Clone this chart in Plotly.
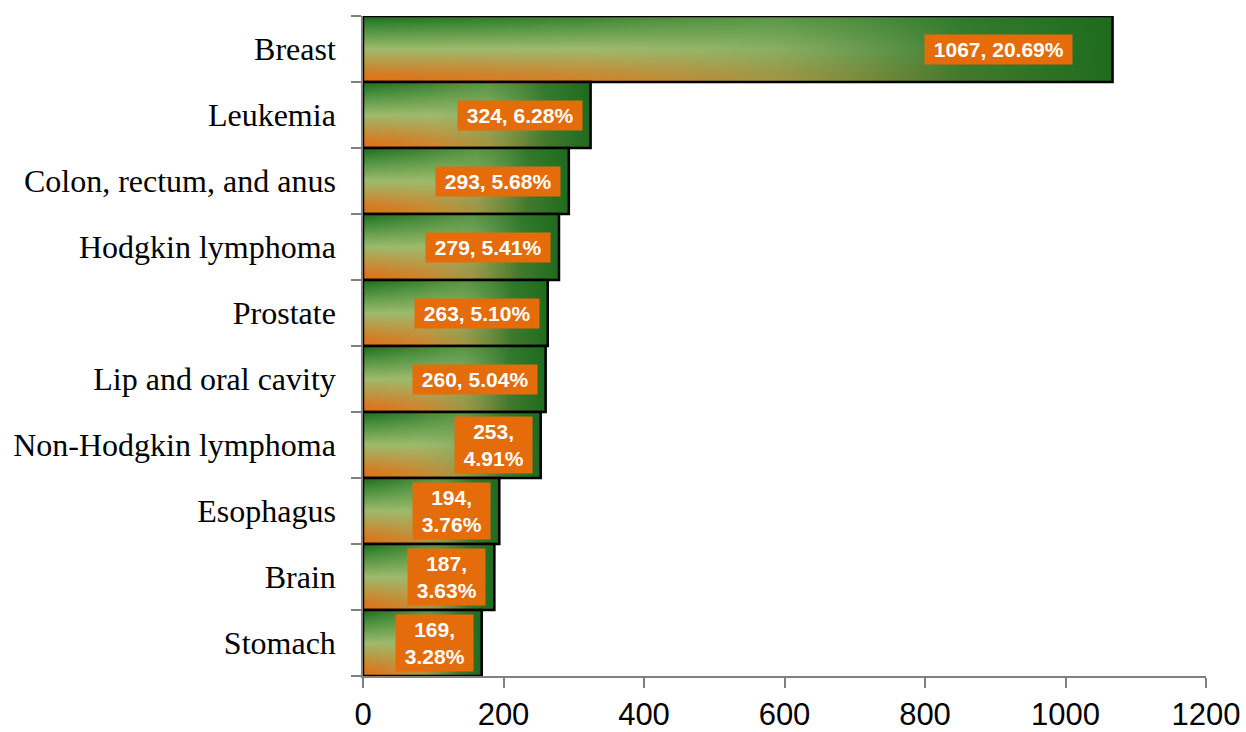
import plotly.graph_objects as go

# ---- data (top to bottom as shown) ----
categories = ["Breast", "Leukemia", "Colon, rectum, and anus", "Hodgkin lymphoma",
              "Prostate", "Lip and oral cavity", "Non-Hodgkin lymphoma",
              "Esophagus", "Brain", "Stomach"]
cases = [1067, 324, 293, 279, 263, 260, 253, 194, 187, 169]
percent = [20.69, 6.28, 5.68, 5.41, 5.10, 5.04, 4.91, 3.76, 3.63, 3.28]
x_ticks = [0, 200, 400, 600, 800, 1000, 1200]

# ---- styles ----
DARK_GREEN = "#1E6B1E"
LIGHT_GREEN = "#9DBA6C"
ORANGE = "#E2700F"
LABEL_BG = "#E46C0A"
AXIS_GRAY = "#808080"
WRAP_BELOW = 255          # labels on bars shorter than this wrap onto two lines
LABEL_SHIFT = {"Breast": -40}
NB = "\u00a0"

vertical_scale = [[0.0, ORANGE], [0.12, "#D77A22"], [0.5, LIGHT_GREEN],
                  [0.85, "#3C8935"], [1.0, DARK_GREEN]]
horizontal_scale = [[0.0, "rgba(157,186,108,0)"], [0.3, "rgba(157,186,108,0.25)"],
                    [0.55, "rgba(125,168,92,0.65)"], [0.8, "rgba(50,120,45,0.9)"],
                    [1.0, "rgba(30,107,30,1)"]]

n = len(categories)
pos = [n - 1 - i for i in range(n)]

fig = go.Figure()

for c, v, p in zip(categories, cases, pos):
    xs = [0, v, v, 0, 0]
    ys = [p - 0.5, p - 0.5, p + 0.5, p + 0.5, p - 0.5]
    fig.add_trace(go.Scatter(
        x=xs, y=ys, mode="lines", line=dict(width=0), fill="toself",
        fillgradient=dict(type="vertical", colorscale=vertical_scale,
                          start=p - 0.5, stop=p + 0.5),
        hoverinfo="skip", showlegend=False))
    fig.add_trace(go.Scatter(
        x=xs, y=ys, mode="lines", line=dict(width=2.5, color="black"), fill="toself",
        fillgradient=dict(type="horizontal", colorscale=horizontal_scale,
                          start=0, stop=v),
        hoverinfo="skip", showlegend=False))

for c, v, pc, p in zip(categories, cases, percent, pos):
    if v < WRAP_BELOW:
        text = f"{NB}{v},{NB}<br>{NB}{pc:.2f}%{NB}"
    else:
        text = f"{NB}{v}, {pc:.2f}%{NB}"
    fig.add_annotation(
        x=v, y=p, xref="x", yref="y", text=text, showarrow=False,
        xanchor="right", yanchor="middle", xshift=LABEL_SHIFT.get(c, -8),
        bgcolor=LABEL_BG, borderpad=3, align="center",
        font=dict(family="Liberation Sans, Arial, sans-serif", size=21,
                  color="white", weight="bold"))

fig.update_layout(
    width=1246, height=732,
    margin=dict(l=363, r=40, t=16, b=56),
    paper_bgcolor="white", plot_bgcolor="white",
    showlegend=False,
    xaxis=dict(range=[0, 1200], tickvals=x_ticks, showgrid=False, zeroline=False,
               automargin=False,
               showline=True, linecolor=AXIS_GRAY, linewidth=1.5,
               ticks="outside", ticklen=10, tickcolor=AXIS_GRAY, tickwidth=1.5,
               tickfont=dict(family="Liberation Sans, Arial, sans-serif", size=31,
                             color="black")),
    yaxis=dict(range=[-0.5, n - 0.5], tickvals=pos, ticktext=categories,
               showgrid=False, zeroline=False, showline=True, automargin=False,
               linecolor=AXIS_GRAY, linewidth=1.5, ticks="",
               ticklabelstandoff=19,
               minor=dict(tickvals=[k - 0.5 for k in range(n + 1)], ticks="outside",
                          ticklen=10, tickcolor=AXIS_GRAY, tickwidth=1.5),
               tickfont=dict(family="Liberation Serif, Times New Roman, serif",
                             size=32, color="black")),
)

fig.write_html("out.html")
